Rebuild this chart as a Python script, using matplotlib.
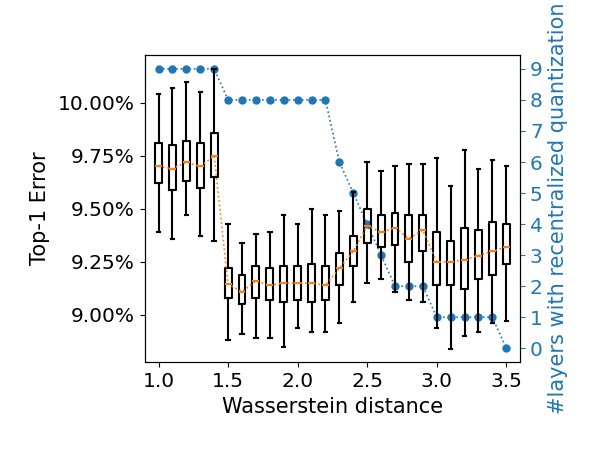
import matplotlib
matplotlib.use("Agg")
import matplotlib.pyplot as plt
from matplotlib.ticker import FuncFormatter

# --- data -------------------------------------------------------------------
dist = [1.0, 1.1, 1.2, 1.3, 1.4, 1.5, 1.6, 1.7, 1.8, 1.9, 2.0, 2.1, 2.2,
        2.3, 2.4, 2.5, 2.6, 2.7, 2.8, 2.9, 3.0, 3.1, 3.2, 3.3, 3.4, 3.5]

# top-1 error (%) five-number summaries for each box
err_low = [9.39, 9.36, 9.47, 9.37, 9.35, 8.88, 8.91, 8.89, 8.89, 8.85, 8.94, 8.92, 8.92,
           8.96, 9.06, 9.15, 9.17, 9.11, 9.07, 9.06, 8.94, 8.84, 8.90, 8.92, 8.96, 8.97]
err_q1 = [9.62, 9.59, 9.63, 9.60, 9.65, 9.08, 9.05, 9.08, 9.07, 9.06, 9.07, 9.06, 9.07,
          9.14, 9.23, 9.34, 9.32, 9.33, 9.25, 9.30, 9.14, 9.14, 9.12, 9.17, 9.19, 9.24]
err_med = [9.70, 9.69, 9.72, 9.70, 9.75, 9.145, 9.11, 9.16, 9.14, 9.15, 9.15, 9.15, 9.14,
           9.22, 9.30, 9.42, 9.39, 9.41, 9.36, 9.40, 9.25, 9.25, 9.26, 9.28, 9.30, 9.32]
err_q3 = [9.81, 9.80, 9.82, 9.81, 9.86, 9.22, 9.19, 9.23, 9.22, 9.23, 9.23, 9.24, 9.23,
          9.29, 9.37, 9.50, 9.47, 9.48, 9.47, 9.47, 9.39, 9.35, 9.41, 9.40, 9.44, 9.43]
err_high = [10.04, 10.07, 10.10, 10.05, 10.16, 9.43, 9.34, 9.38, 9.39, 9.47, 9.43, 9.50, 9.47,
            9.49, 9.58, 9.72, 9.68, 9.70, 9.71, 9.71, 9.74, 9.61, 9.78, 9.69, 9.73, 9.70]

# number of layers using recentralized quantization
n_layers = [9, 9, 9, 9, 9, 8, 8, 8, 8, 8, 8, 8, 8,
            6, 5, 4, 3, 2, 2, 2, 1, 1, 1, 1, 1, 0]

plt.rcParams["font.size"] = 14.5
plt.rcParams["axes.labelsize"] = 15

fig = plt.figure(figsize=(6, 4.5), dpi=100)
ax = fig.add_axes([0.241, 0.195, 0.626, 0.683])
ax2 = ax.twinx()

# blue step line on the right axis, drawn below the boxes
ax2.plot(dist, n_layers, ":", color="C0", marker="o", markersize=5, linewidth=1.2)
ax2.set_ylabel("#layers with recentralized quantization", color="C0")
ax2.set_yticks(range(10))
ax2.tick_params(axis="y", colors="C0")
ax2.spines["right"].set_color("black")

# boxes on the left axis
stats = []
for i in range(len(dist)):
    stats.append({"whislo": err_low[i], "q1": err_q1[i], "med": err_med[i],
                  "q3": err_q3[i], "whishi": err_high[i], "fliers": []})

line_kw = {"color": "black", "linewidth": 1.5}
ax.bxp(stats, positions=dist, widths=0.05, showfliers=False, manage_ticks=False,
       boxprops=line_kw, whiskerprops=line_kw, capprops=line_kw,
       medianprops={"color": "C1", "linewidth": 1.5})
ax.plot(dist, err_med, ":", color="C1", linewidth=1.2)

ax.set_zorder(ax2.get_zorder() + 1)
ax.patch.set_visible(False)

ax.set_xlim(0.9, 3.6)
ax.set_xticks([1.0, 1.5, 2.0, 2.5, 3.0, 3.5])
ax.set_ylim(8.777, 10.226)
ax.set_yticks([9.0, 9.25, 9.5, 9.75, 10.0])
ax.yaxis.set_major_formatter(FuncFormatter(lambda v, p: f"{v:.2f}%"))
ax.set_xlabel("Wasserstein distance")
ax.set_ylabel("Top-1 Error", labelpad=6)

fig.savefig("out.png", dpi=100)
